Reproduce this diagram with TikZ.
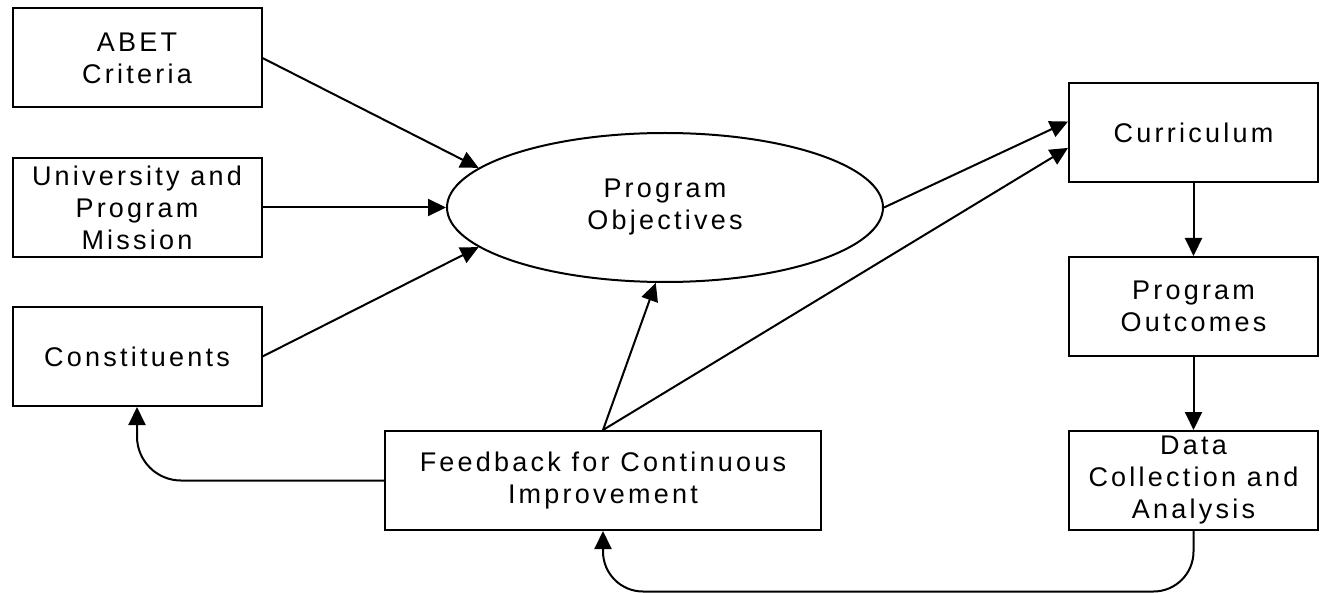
\documentclass[tikz,border=0pt]{standalone}
\usepackage{fontspec}
\setmainfont{Liberation Sans}[LetterSpace=12]
\usetikzlibrary{arrows.meta,shapes.geometric}
\begin{document}
\begin{tikzpicture}[x=1pt,y=-1pt, line width=2pt,
  lbl/.style={align=center, font=\fontsize{27}{32}\selectfont},
  box/.style={lbl, draw, rectangle, minimum width=249pt, minimum height=99pt, inner sep=0pt},
  oval/.style={lbl, draw, ellipse, minimum width=436pt, minimum height=149pt, inner sep=0pt},
  arr/.style={-{Triangle[length=18pt,width=17pt]}}]
\useasboundingbox (0,0) rectangle (1322,593);
\node[box] (abet) at (137,58) {ABET\\Criteria};
\node[box] (univ) at (137,207.5) {University and\\Program\\Mission};
\node[box] (cons) at (137,356.5) {Constituents};
\node[oval] (obj) at (665,207.5) {Program\\Objectives};
\node[box] (cur) at (1193.5,132.5) {Curriculum};
\node[box] (out) at (1193.5,306.5) {Program\\Outcomes};
\node[box] (data) at (1193.5,480.5) {Data\\Collection and\\Analysis};
\node[box, minimum width=436pt] (fb) at (603,480.5) {Feedback for Continuous\\Improvement};
\coordinate (bot) at (0,591.5);
\draw[arr] (abet.east) -- (obj.168);
\draw[arr] (univ.east) -- (obj.west);
\draw[arr] (cons.east) -- (obj.192);
\draw[arr] (obj.east) -- (cur.175);
\draw[arr] (fb.north) -- (obj.263);
\draw[arr] (fb.north) -- (cur.187);
\draw[arr] (cur) -- (out);
\draw[arr] (out) -- (data);
\draw[arr, rounded corners=40pt] (data.south) -- (data.south |- bot) -- (fb.south |- bot) -- (fb.south);
\draw[arr, rounded corners=44pt] (fb.west) -- (cons.south |- fb.west) -- (cons.south);
\end{tikzpicture}
\end{document}
